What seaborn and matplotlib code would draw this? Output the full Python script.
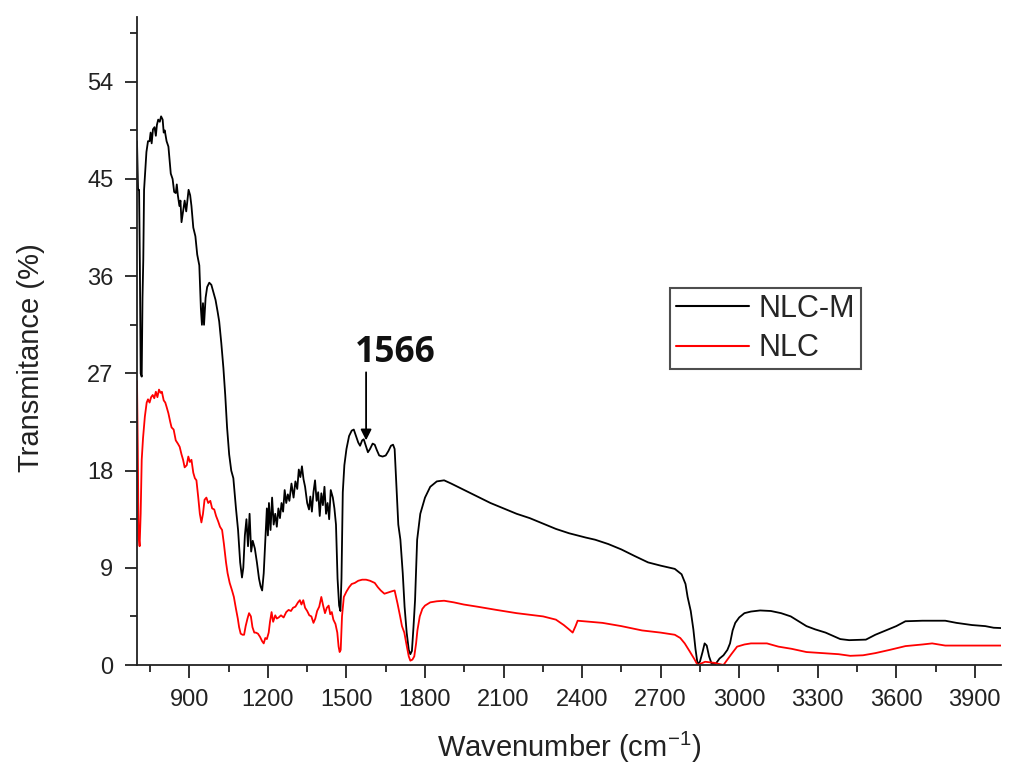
import numpy as np
import pandas as pd
import matplotlib
matplotlib.use("Agg")
import matplotlib.pyplot as plt
import seaborn as sns
from matplotlib.ticker import MultipleLocator
from matplotlib.lines import Line2D

# ---------------- data ----------------
nlcm_wn = [700, 704, 708, 711, 714, 718, 721, 724, 727, 731, 736, 742, 748, 752, 756, 761, 767, 772, 776, 781,
           787, 792, 798, 802, 806, 813, 820, 829, 836, 842, 848, 852, 856, 862, 866, 870, 876, 882, 888, 897,
           903, 908, 915, 923, 930, 938, 944, 948, 952, 956, 962, 968, 976, 984, 992, 1000, 1008, 1014, 1022,
           1030, 1037, 1044, 1052, 1060, 1068, 1078, 1086, 1094, 1101, 1106, 1112, 1118, 1124, 1130, 1136, 1142,
           1150, 1158, 1166, 1172, 1178, 1184, 1190, 1196, 1200, 1204, 1210, 1216, 1222, 1228, 1234, 1240, 1246,
           1252, 1258, 1264, 1270, 1276, 1282, 1290, 1298, 1305, 1312, 1318, 1324, 1330, 1336, 1342, 1350, 1357,
           1362, 1368, 1374, 1380, 1386, 1392, 1398, 1404, 1410, 1416, 1422, 1428, 1434, 1440, 1448, 1454, 1460,
           1466, 1472, 1477, 1481, 1486, 1492, 1500, 1510, 1520, 1528, 1535, 1545, 1552, 1560, 1566, 1574, 1582,
           1590, 1600, 1608, 1616, 1625, 1638, 1650, 1660, 1670, 1678, 1684, 1690, 1698, 1706, 1715, 1722, 1730,
           1738, 1744, 1750, 1756, 1762, 1770, 1782, 1800, 1820, 1845, 1873, 1900, 1950, 2000, 2050, 2100, 2150,
           2200, 2250, 2300, 2350, 2414, 2450, 2500, 2550, 2600, 2652, 2700, 2754, 2780, 2795, 2803, 2815, 2825,
           2833, 2841, 2850, 2860, 2868, 2876, 2885, 2895, 2910, 2925, 2940, 2955, 2965, 2975, 2985, 3000, 3020,
           3045, 3080, 3121, 3160, 3197, 3230, 3257, 3290, 3330, 3386, 3420, 3484, 3520, 3560, 3600, 3635, 3700,
           3787, 3830, 3889, 3940, 3972, 4020]
nlcm_t = [48.5, 44.0, 44.0, 37.0, 27.0, 26.7, 34.0, 37.5, 44.0, 45.5, 47.5, 48.5, 48.5, 49.3, 48.3, 49.6, 49.8,
          49.0, 50.0, 50.5, 50.3, 50.8, 50.5, 49.3, 49.5, 48.5, 48.0, 45.5, 45.0, 43.8, 43.7, 44.5, 43.5, 42.5,
          43.0, 41.0, 42.0, 43.0, 42.0, 44.0, 43.5, 42.5, 40.5, 39.7, 38.0, 37.0, 33.0, 31.5, 33.5, 31.5, 34.0,
          35.0, 35.4, 35.2, 34.5, 33.8, 32.7, 31.8, 29.8, 27.5, 25.0, 22.0, 19.5, 18.0, 17.3, 14.5, 12.5, 9.5,
          8.1, 9.0, 12.0, 13.5, 11.0, 14.0, 10.5, 11.5, 10.8, 9.5, 8.0, 7.3, 6.9, 8.5, 11.5, 14.5, 12.0, 15.0,
          12.5, 15.5, 13.0, 14.0, 12.8, 14.5, 13.6, 15.0, 14.2, 16.2, 15.0, 15.8, 15.2, 16.8, 15.5, 17.0, 16.3,
          18.1, 17.4, 18.4, 17.2, 16.5, 15.0, 14.4, 15.6, 14.2, 16.0, 17.1, 15.2, 16.0, 13.8, 15.9, 14.8, 16.5,
          14.0, 15.0, 13.5, 16.2, 15.5, 14.5, 13.0, 8.0, 5.5, 5.0, 8.0, 16.0, 18.5, 20.0, 21.2, 21.7, 21.8, 21.3,
          20.6, 20.3, 20.8, 20.9, 20.3, 19.7, 20.0, 20.5, 20.4, 19.9, 19.4, 19.3, 19.4, 19.8, 20.3, 20.4, 20.0,
          17.0, 13.0, 11.6, 8.5, 5.4, 3.0, 1.4, 1.0, 1.3, 3.5, 6.0, 11.6, 14.0, 15.5, 16.5, 17.0, 17.1, 16.8,
          16.2, 15.6, 15.0, 14.5, 14.0, 13.6, 13.1, 12.6, 12.2, 11.8, 11.6, 11.2, 10.7, 10.1, 9.5, 9.2, 8.9, 8.4,
          7.5, 6.3, 5.0, 3.3, 1.5, 0.1, 0.3, 1.2, 2.0, 1.8, 0.8, 0.1, 0.1, 0.6, 0.9, 1.4, 2.0, 3.2, 3.9, 4.4,
          4.8, 4.95, 5.05, 5.0, 4.8, 4.5, 4.0, 3.6, 3.3, 3.0, 2.4, 2.3, 2.35, 2.8, 3.2, 3.6, 4.05, 4.1, 4.1,
          3.9, 3.7, 3.6, 3.45, 3.4]

nlc_wn = [700, 703, 706, 710, 714, 718, 723, 730, 737, 742, 748, 754, 760, 766, 772, 778, 784, 790, 795, 802,
          808, 813, 820, 827, 832, 840, 848, 856, 863, 870, 876, 882, 890, 896, 902, 908, 915, 921, 927, 934,
          940, 946, 952, 958, 965, 972, 980, 987, 995, 1002, 1010, 1017, 1025, 1032, 1040, 1046, 1054, 1063,
          1070, 1078, 1085, 1090, 1096, 1103, 1109, 1115, 1122, 1128, 1135, 1141, 1148, 1154, 1162, 1170, 1178,
          1184, 1190, 1196, 1203, 1208, 1214, 1220, 1228, 1234, 1241, 1250, 1260, 1270, 1279, 1288, 1296, 1305,
          1315, 1322, 1328, 1335, 1342, 1350, 1358, 1366, 1374, 1381, 1388, 1396, 1404, 1411, 1418, 1425, 1432,
          1438, 1444, 1450, 1458, 1465, 1470, 1474, 1478, 1483, 1490, 1500, 1510, 1520, 1532, 1545, 1560, 1575,
          1590, 1608, 1620, 1631, 1645, 1657, 1670, 1684, 1695, 1705, 1712, 1721, 1730, 1738, 1744, 1752, 1759,
          1766, 1771, 1780, 1790, 1800, 1820, 1845, 1873, 1910, 1948, 2000, 2073, 2150, 2251, 2300, 2330, 2350,
          2364, 2375, 2383, 2430, 2478, 2550, 2629, 2700, 2754, 2775, 2792, 2810, 2830, 2841, 2870, 2905, 2940,
          2955, 2970, 2992, 3020, 3045, 3106, 3150, 3200, 3257, 3321, 3380, 3424, 3473, 3520, 3575, 3635, 3700,
          3737, 3787, 3880, 3972, 4020]
nlc_t = [26.3, 20.0, 12.0, 11.0, 14.0, 19.0, 21.0, 23.0, 24.3, 24.6, 24.3, 24.8, 25.0, 24.7, 25.3, 24.8, 25.5,
         25.2, 25.3, 24.5, 24.3, 23.9, 23.3, 22.5, 22.0, 21.8, 20.8, 20.5, 20.2, 19.5, 19.0, 18.3, 18.5, 19.3,
         18.8, 19.0, 17.8, 17.3, 17.1, 15.5, 14.0, 13.2, 14.0, 15.3, 15.5, 15.0, 15.2, 14.5, 14.4, 13.8, 13.3,
         12.8, 12.5, 11.2, 9.5, 8.5, 7.6, 6.9, 6.3, 5.2, 4.3, 3.5, 2.9, 2.8, 2.8, 3.6, 4.3, 4.8, 4.5, 3.5, 3.0,
         3.0, 2.9, 2.6, 2.2, 2.0, 2.5, 2.4, 3.0, 4.0, 4.9, 4.0, 4.6, 4.3, 4.4, 4.6, 4.4, 4.9, 5.1, 5.0, 5.3,
         5.4, 5.8, 6.0, 5.6, 6.0, 5.3, 5.0, 4.6, 4.5, 3.9, 4.3, 5.0, 5.4, 6.3, 5.5, 4.8, 5.3, 5.5, 4.7, 4.9,
         4.2, 3.8, 3.0, 1.7, 1.2, 1.4, 4.5, 6.3, 6.8, 7.2, 7.5, 7.6, 7.8, 7.9, 7.9, 7.8, 7.6, 7.2, 6.9, 6.6,
         6.7, 6.8, 6.9, 5.7, 4.5, 3.6, 3.0, 1.8, 0.8, 0.4, 0.5, 0.8, 2.0, 3.2, 4.5, 5.2, 5.5, 5.8, 5.9, 5.95,
         5.8, 5.6, 5.4, 5.1, 4.8, 4.5, 4.2, 3.7, 3.3, 3.0, 3.6, 4.1, 4.0, 3.9, 3.6, 3.2, 3.0, 2.8, 2.5, 2.0,
         1.3, 0.5, 0.0, 0.3, 0.2, 0.0, 0.5, 1.0, 1.7, 1.9, 2.0, 2.0, 1.7, 1.5, 1.2, 1.1, 1.0, 0.85, 0.9, 1.1,
         1.4, 1.75, 1.9, 2.0, 1.8, 1.8, 1.8, 1.8]

series_names = ["NLC-M", "NLC"]
series_colors = {"NLC-M": "black", "NLC": "red"}
x_ticks = [900, 1200, 1500, 1800, 2100, 2400, 2700, 3000, 3300, 3600, 3900]
y_ticks = [0, 9, 18, 27, 36, 45, 54]
peak_label = "1566"

# ---------------- build frame ----------------
df = pd.concat([
    pd.DataFrame({"wn": nlcm_wn, "T": nlcm_t, "sample": "NLC-M"}),
    pd.DataFrame({"wn": nlc_wn, "T": nlc_t, "sample": "NLC"}),
], ignore_index=True)

sns.set_style("ticks")
plt.rcParams["font.family"] = ["Liberation Sans", "DejaVu Sans"]
plt.rcParams["mathtext.default"] = "regular"

fig = plt.figure(figsize=(10.15, 7.67), dpi=100)
ax = fig.add_axes([137 / 1015, 1 - 665 / 767, (1001 - 137) / 1015, (665 - 17) / 767])

sns.lineplot(data=df, x="wn", y="T", hue="sample", hue_order=series_names,
             palette=series_colors, estimator=None, sort=False, linewidth=1.3, ax=ax, legend=False)

ax.set_xlim(700, 4000)
ax.set_ylim(0, 60)
ax.set_xticks(x_ticks)
ax.set_yticks(y_ticks)
ax.xaxis.set_minor_locator(MultipleLocator(150))
ax.yaxis.set_minor_locator(MultipleLocator(4.5))
ax.tick_params(which="major", length=9, width=1.3, labelsize=17, pad=8, color="#222222", labelcolor="#222222")
ax.tick_params(which="minor", length=5, width=1.3, color="#222222")
for side in ["top", "right"]:
    ax.spines[side].set_visible(False)
for side in ["left", "bottom"]:
    ax.spines[side].set_linewidth(1.3)
    ax.spines[side].set_color("#222222")

ax.set_xlabel("Wavenumber (cm$^{-1}$)", fontsize=21, color="#222222", labelpad=14)
ax.set_ylabel("Transmitance (%)", fontsize=21, color="#222222")
ax.yaxis.set_label_coords(-0.107, 0.475)

# legend
handles = [Line2D([0], [0], color=series_colors[n], lw=1.5) for n in series_names]
leg = ax.legend(handles, series_names, loc="upper left", bbox_to_anchor=(670 / 1015, 1 - 288 / 767),
                bbox_transform=fig.transFigure, fontsize=22, frameon=True, fancybox=False,
                handlelength=2.4, handletextpad=0.3, borderpad=0.2, labelspacing=0.3,
                borderaxespad=0.0)
leg.get_frame().set_edgecolor("#222222")
leg.get_frame().set_linewidth(1.5)

# annotation of the 1566 band
ax.annotate("", xy=(1575, 20.8), xytext=(1575, 27.1),
            arrowprops=dict(arrowstyle="-|>", color="black", lw=1.3, mutation_scale=16,
                            shrinkA=0, shrinkB=0))
ax.text(1685, 28.1, peak_label, ha="center", va="baseline", fontsize=25.5,
        fontweight="bold", family=["Open Sans", "DejaVu Sans"], color="#111111")

fig.savefig("out.png", dpi=100)
